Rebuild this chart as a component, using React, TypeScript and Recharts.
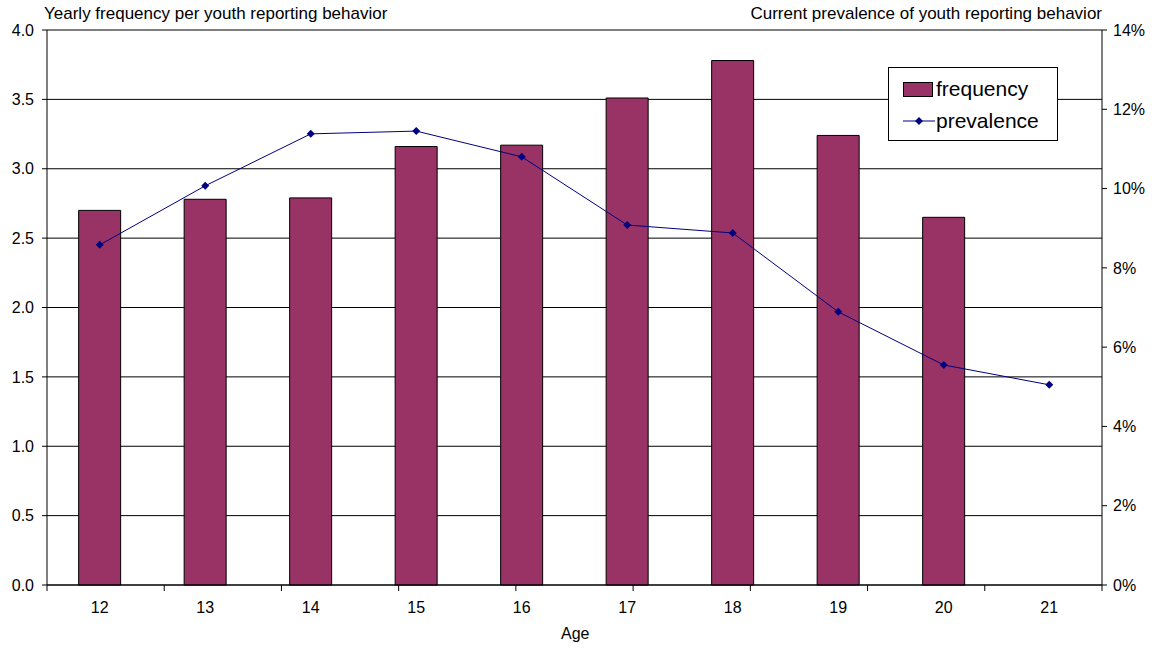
import { ComposedChart, CartesianGrid, XAxis, YAxis, Bar, Line } from 'recharts'

const ages = ['12', '13', '14', '15', '16', '17', '18', '19', '20', '21']
const frequency = [2.7, 2.78, 2.79, 3.16, 3.17, 3.51, 3.78, 3.24, 2.65, null]
const prevalence = [0.0858, 0.1007, 0.1138, 0.1145, 0.108, 0.0908, 0.0888, 0.0689, 0.0555, 0.0505]
const leftTicks = [0, 0.5, 1, 1.5, 2, 2.5, 3, 3.5, 4]
const rightTicks = [0, 0.02, 0.04, 0.06, 0.08, 0.1, 0.12, 0.14]
const boundaryTicks = [0, 1, 2, 3, 4, 5, 6, 7, 8, 9, 10]

const data = ages.map((age, i) => ({ age, frequency: frequency[i], prevalence: prevalence[i] }))

const font = '"Liberation Sans", Arial, sans-serif'
const barColor = '#993366'
const lineColor = '#000080'

const Diamond = (props: any) => {
	const { cx, cy } = props
	if (cx == null || cy == null) return null
	const r = 4
	return <polygon points={`${cx},${cy - r} ${cx + r},${cy} ${cx},${cy + r} ${cx - r},${cy}`} fill={lineColor} />
}

const LegendBox = () => (
	<div style={{ position: 'absolute', left: 888, top: 67, border: '1px solid #000', background: '#fff', width: 170, height: 74, fontFamily: font, fontSize: 21, color: '#000', boxSizing: 'border-box', padding: '5px 0 0 14px', zIndex: 2 }}>
		<div style={{ display: 'flex', alignItems: 'center', height: 32 }}>
			<span style={{ display: 'inline-block', width: 28, height: 13, background: barColor, border: '1px solid #000', marginRight: 3 }} />
			frequency
		</div>
		<div style={{ display: 'flex', alignItems: 'center', height: 32 }}>
			<svg width={32} height={12} style={{ marginRight: 1 }}>
				<line x1={0} y1={6} x2={32} y2={6} stroke={lineColor} strokeWidth={1} />
				<polygon points="16,2 20,6 16,10 12,6" fill={lineColor} />
			</svg>
			prevalence
		</div>
	</div>
)

export default function App() {
	return (
		<div style={{ position: 'absolute', left: 0, top: 0, width: 1156, height: 649, background: '#fff', fontFamily: font }}>
			<div style={{ position: 'absolute', left: 44, top: 4, fontSize: 17, color: '#000', zIndex: 2 }}>Yearly frequency per youth reporting behavior</div>
			<div style={{ position: 'absolute', right: 54, top: 4, fontSize: 17, color: '#000', zIndex: 2 }}>Current prevalence of youth reporting behavior</div>
			<div style={{ position: 'absolute', left: 561, top: 625, fontSize: 16, color: '#000', zIndex: 2 }}>Age</div>
			<LegendBox />
			<ComposedChart width={1156} height={649} data={data} margin={{ top: 30, right: 0, bottom: 23, left: 0 }} barCategoryGap="30%">
				<CartesianGrid vertical={false} stroke="#000" strokeWidth={1} yAxisId="left" />
				<XAxis xAxisId="bounds" type="number" domain={[0, 10]} ticks={boundaryTicks} height={1} tickSize={6} tickFormatter={() => ''} stroke="#000" axisLine={{ stroke: '#000' }} tickLine={{ stroke: '#000' }} />
				<XAxis xAxisId="cat" dataKey="age" height={40} axisLine={false} tickLine={false} tickSize={0} tickMargin={16} tick={{ fill: '#000', fontSize: 16, fontFamily: font }} interval={0} />
				<YAxis yAxisId="left" width={47} domain={[0, 4]} ticks={leftTicks} tickFormatter={(v: number) => v.toFixed(1)} tick={{ fill: '#000', fontSize: 16, fontFamily: font }} tickSize={5} tickMargin={8} stroke="#000" />
				<YAxis yAxisId="right" orientation="right" width={54} domain={[0, 0.14]} ticks={rightTicks} tickFormatter={(v: number) => `${Math.round(v * 100)}%`} tick={{ fill: '#000', fontSize: 16, fontFamily: font }} tickSize={5} tickMargin={6} stroke="#000" />
				<Bar xAxisId="cat" yAxisId="left" dataKey="frequency" fill={barColor} stroke="#000" strokeWidth={1} isAnimationActive={false} />
				<Line xAxisId="cat" yAxisId="right" dataKey="prevalence" stroke={lineColor} strokeWidth={1} dot={<Diamond />} activeDot={false} isAnimationActive={false} />
			</ComposedChart>
		</div>
	)
}
